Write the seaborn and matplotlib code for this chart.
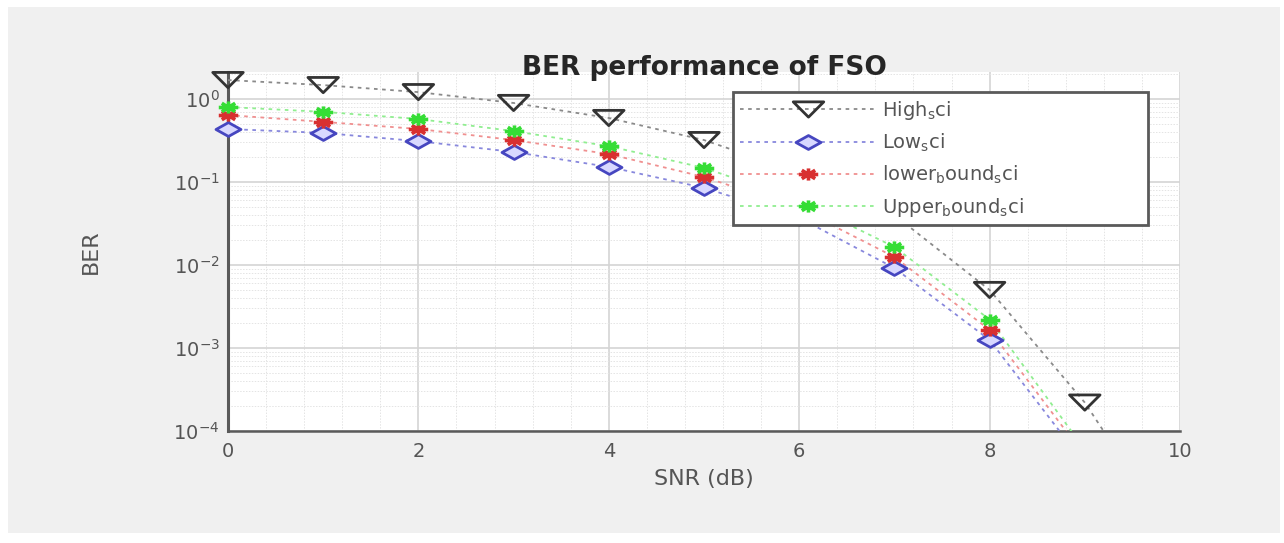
# Curvas BER del enlace FSO en escala logaritmica.
# Estilo imitando una figura de MATLAB (fondo gris, grid minor).

import matplotlib

matplotlib.use('Agg')

import matplotlib.pyplot as plt
import matplotlib.patches as mpatches
from matplotlib.lines import Line2D
from matplotlib.path import Path
from matplotlib.ticker import MultipleLocator, LogLocator, NullFormatter
import seaborn as sns
import numpy as np


# Datos
snr_db = [0, 1, 2, 3, 4, 5, 6, 7, 8, 9, 10]

high_sci = [1.69, 1.47, 1.21, 0.895, 0.59, 0.32, 0.13, 0.04, 5.0e-3, 2.2e-4, 4e-6]
low_sci = [0.435, 0.39, 0.31, 0.23, 0.152, 0.085, 0.037, 0.0092, 1.25e-3, 4e-5, 5e-7]
lower_bound_sci = [0.64, 0.53, 0.435, 0.32, 0.217, 0.115, 0.048, 0.0125, 1.65e-3, 5e-5, 7e-7]
upper_bound_sci = [0.80, 0.70, 0.574, 0.41, 0.27, 0.148, 0.06, 0.0165, 2.2e-3, 6e-5, 9e-7]

labels = [
    r'High$_\mathregular{s}$ci',
    r'Low$_\mathregular{s}$ci',
    r'lower$_\mathregular{b}$ound$_\mathregular{s}$ci',
    r'Upper$_\mathregular{b}$ound$_\mathregular{s}$ci',
]

Y_MIN = 1e-4
Y_MAX = 10 ** 0.325


def wide_marker(kind):
    # Marcadores ensanchados (la figura original esta estirada en horizontal).

    if kind == 'tri':
        return Path([(-2, 1), (2, 1), (0, -1), (-2, 1)], closed=True)

    if kind == 'diamond':
        return Path([(-1.8, 0), (0, 1), (1.8, 0), (0, -1), (-1.8, 0)], closed=True)

    verts = [
        (-1.6, 0), (1.6, 0),
        (0, -1), (0, 1),
        (-1.1, -0.7), (1.1, 0.7),
        (-1.1, 0.7), (1.1, -0.7),
    ]
    codes = [Path.MOVETO, Path.LINETO] * 4

    return Path(verts, codes)


sns.set_style('white')
plt.rcParams['font.family'] = ['DejaVu Sans']

fig = plt.figure(
    figsize=(12.84, 5.43),
    dpi=100,
    facecolor='white',
)

# Panel gris de fondo tipo MATLAB
fig.patches.append(
    mpatches.Rectangle(
        (8 / 1284, 10 / 543),
        1272 / 1284,
        526 / 543,
        transform=fig.transFigure,
        facecolor='#f0f0f0',
        edgecolor='none',
        zorder=-10,
    )
)

ax = fig.add_axes([228 / 1284, 112 / 543, 952 / 1284, 359 / 543])
ax.set_facecolor('white')
ax.set_yscale('log')

series = [
    (high_sci, '#8a8a8a', '#333333', 'none', 'tri', 22, 2.0),
    (low_sci, '#8888dd', '#4646c0', '#d8d8ff', 'diamond', 18, 2.0),
    (lower_bound_sci, '#f09090', '#d83030', '#d83030', 'star', 14, 2.6),
    (upper_bound_sci, '#90ee90', '#35dd35', '#35dd35', 'star', 14, 2.6),
]

handles = []

for (values, lcolor, mcolor, fcolor, kind, size, mew), label in zip(series, labels):

    marker = wide_marker(kind)
    dots = (0, (2, 2.5))

    # Linea punteada (recortada por los ejes)
    sns.lineplot(
        x=snr_db,
        y=values,
        color=lcolor,
        linestyle=dots,
        linewidth=1.3,
        ax=ax,
        zorder=3,
    )

    # Marcadores sin recorte en los bordes (como en MATLAB)
    inside = [(x, v) for x, v in zip(snr_db, values) if Y_MIN <= v <= Y_MAX]

    sns.scatterplot(
        x=[p[0] for p in inside],
        y=[p[1] for p in inside],
        marker=marker,
        s=size ** 2,
        edgecolor=mcolor,
        facecolor=fcolor,
        linewidth=mew,
        clip_on=False,
        legend=False,
        ax=ax,
        zorder=4,
    )

    handles.append(
        Line2D(
            [], [],
            color=lcolor,
            linestyle=dots,
            linewidth=1.3,
            marker=marker,
            markersize=size,
            markeredgecolor=mcolor,
            markerfacecolor=fcolor,
            markeredgewidth=mew,
            label=label,
        )
    )

ax.set_xlim(0, 10)
ax.set_ylim(Y_MIN, Y_MAX)

ax.xaxis.set_major_locator(MultipleLocator(2))
ax.xaxis.set_minor_locator(MultipleLocator(0.4))
ax.yaxis.set_major_locator(LogLocator(base=10, numticks=10))
ax.yaxis.set_minor_locator(LogLocator(base=10, subs=np.arange(2, 10), numticks=20))
ax.yaxis.set_minor_formatter(NullFormatter())

ax.grid(which='major', color='#d4d4d4', linewidth=1.2)
ax.grid(which='minor', color='#e4e4e4', linewidth=0.7, linestyle=(0, (1.5, 1.5)))
ax.set_axisbelow(True)

for side in ['top', 'right']:
    ax.spines[side].set_visible(False)

ax.spines['left'].set_color('#5a5a5a')
ax.spines['left'].set_linewidth(2.2)
ax.spines['bottom'].set_color('#5a5a5a')
ax.spines['bottom'].set_linewidth(1.8)

ax.tick_params(
    which='both',
    direction='in',
    colors='#5a5a5a',
    labelcolor='#555555',
    labelsize=14,
)
ax.tick_params(which='major', length=6, width=1.2)
ax.tick_params(which='minor', length=3, width=0.8)
ax.tick_params(axis='x', which='minor', length=0)
ax.tick_params(axis='x', pad=8)
ax.tick_params(axis='y', pad=6)

ax.set_xlabel(
    'SNR (dB)',
    fontsize=16,
    color='#555555',
    labelpad=6,
)

ax.set_ylabel(
    'BER',
    fontsize=16,
    color='#555555',
)
ax.yaxis.set_label_coords(-0.134, 0.5)

ax.set_title(
    'BER performance of FSO',
    fontsize=19,
    fontweight='bold',
    color='#262626',
    pad=-2,
)

leg = ax.legend(
    handles=handles,
    loc='upper left',
    bbox_to_anchor=(733 / 1284, 321 / 543, 415 / 1284, 130 / 543),
    bbox_transform=fig.transFigure,
    mode='expand',
    borderaxespad=0,
    fontsize=14,
    handlelength=7.0,
    handletextpad=0.3,
    labelspacing=0.5,
    borderpad=0.35,
    frameon=True,
    fancybox=False,
    framealpha=1,
)
leg.set_zorder(10)

leg.get_frame().set_edgecolor('#5a5a5a')
leg.get_frame().set_linewidth(2.0)

for text in leg.get_texts():
    text.set_color('#555555')

fig.savefig('out.png', dpi=100)
